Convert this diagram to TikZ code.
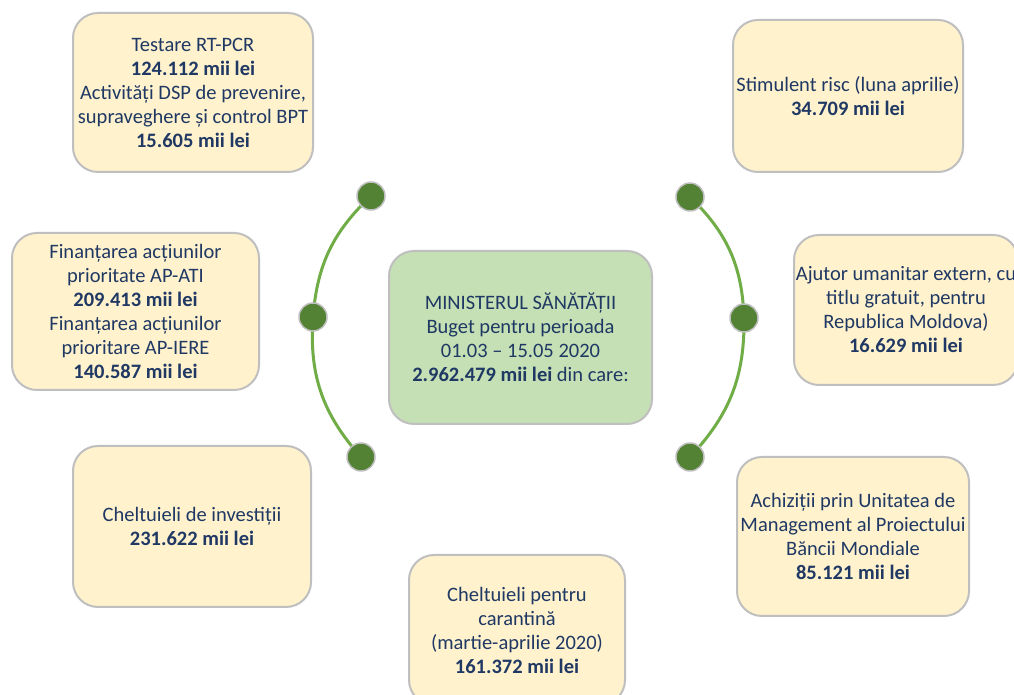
\documentclass[tikz,border=0pt]{standalone}
\usepackage{fontspec}
\setmainfont{Carlito}
\definecolor{boxfill}{HTML}{FFF2CC}
\definecolor{boxline}{HTML}{BFBFBF}
\definecolor{ctrfill}{HTML}{C5E0B4}
\definecolor{dotfill}{HTML}{548235}
\definecolor{arcline}{HTML}{70AD47}
\definecolor{txt}{HTML}{1F3864}
\tikzset{
  infobox/.style={draw=boxline, line width=2pt, fill=boxfill, rounded corners=25pt,
    align=center, text=txt, inner sep=0pt, font=\fontsize{20.5}{24}\selectfont},
  ctrbox/.style={infobox, fill=ctrfill},
  dot/.style={circle, draw=boxline, line width=1.5pt, fill=dotfill, minimum size=28pt, inner sep=0pt},
  arcpath/.style={draw=arcline, line width=3pt},
}
\begin{document}
\begin{tikzpicture}[x=1pt,y=1pt]
\clip (0,0) rectangle (1014,695);
\useasboundingbox (0,0) rectangle (1014,695);
\fill[white] (0,0) rectangle (1014,695);
% arcs
\coordinate (l1) at (371,499);
\coordinate (l2) at (313,378);
\coordinate (l3) at (361,238);
\coordinate (r1) at (690,498);
\coordinate (r2) at (744,377);
\coordinate (r3) at (690,238);
\draw[arcpath] (l1) to[bend right=21] (l2) to[bend right=23] (l3);
\draw[arcpath] (r1) to[bend left=22] (r2) to[bend left=22] (r3);
\node[dot] (dl1) at (l1) {};
\node[dot] (dl2) at (l2) {};
\node[dot] (dl3) at (l3) {};
\node[dot] (dr1) at (r1) {};
\node[dot] (dr2) at (r2) {};
\node[dot] (dr3) at (r3) {};
% boxes
\node[infobox, minimum width=240pt, minimum height=159pt] (tl) at (193,602.5)
  {Testare RT-PCR\\\textbf{124.112 mii lei}\\Activități DSP de prevenire,\\supraveghere și control BPT\\\textbf{15.605 mii lei}};
\node[infobox, minimum width=230pt, minimum height=152pt] (tr) at (848,599)
  {Stimulent risc (luna aprilie)\\\textbf{34.709 mii lei}};
\node[infobox, minimum width=247pt, minimum height=157pt] (ml) at (135.5,383.5)
  {Finanțarea acțiunilor\\prioritate AP-ATI\\\textbf{209.413 mii lei}\\Finanțarea acțiunilor\\prioritare AP-IERE\\\textbf{140.587 mii lei}};
\node[ctrbox, minimum width=263pt, minimum height=173pt] (ctr) at (520.5,357.5)
  {MINISTERUL SĂNĂTĂȚII\\Buget pentru perioada\\01.03 – 15.05 2020\\\textbf{2.962.479 mii lei} din care:};
\node[infobox, minimum width=224pt, minimum height=150pt] (mr) at (906,385)
  {Ajutor umanitar extern, cu\\titlu gratuit, pentru\\Republica Moldova)\\\textbf{16.629 mii lei}};
\node[infobox, minimum width=238pt, minimum height=161pt] (bl) at (192,168.5)
  {Cheltuieli de investiții\\\textbf{231.622 mii lei}};
\node[infobox, minimum width=216pt, minimum height=150pt] (bc) at (517,65)
  {Cheltuieli pentru\\carantină\\ (martie-aprilie 2020)\\\textbf{161.372 mii lei}};
\node[infobox, minimum width=232pt, minimum height=159pt] (br) at (853,158.5)
  {Achiziții prin Unitatea de\\Management al Proiectului\\Băncii Mondiale\\\textbf{85.121 mii lei}};
\end{tikzpicture}
\end{document}
